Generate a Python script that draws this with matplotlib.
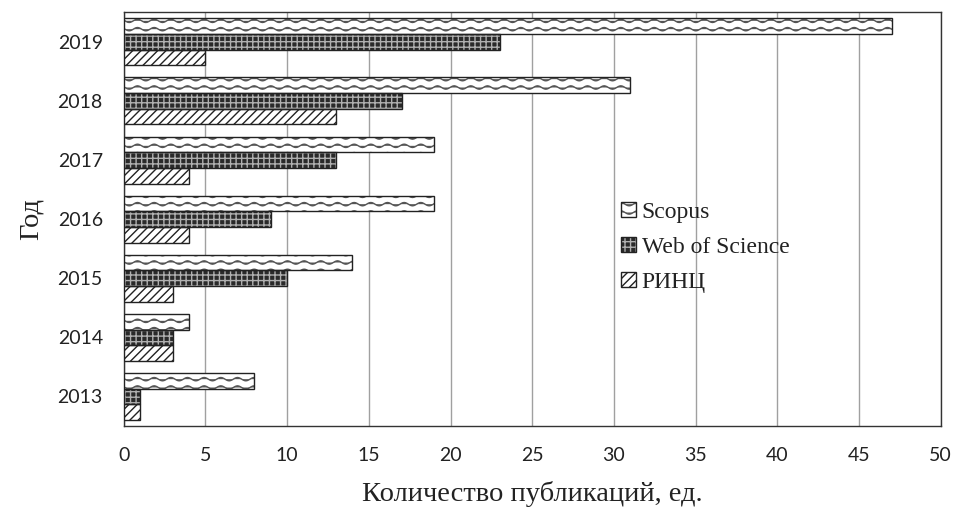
import numpy as np
import matplotlib
matplotlib.use("Agg")
import matplotlib.pyplot as plt
import matplotlib.hatch as mhatch
from matplotlib.path import Path
from matplotlib.patches import Patch
import warnings
warnings.filterwarnings("ignore")

years = ["2013", "2014", "2015", "2016", "2017", "2018", "2019"]
scopus = [8, 4, 14, 19, 19, 31, 47]
wos = [1, 3, 10, 9, 13, 17, 23]
rinc = [1, 3, 3, 4, 4, 13, 5]
series_names = ["Scopus", "Web of Science", "РИНЦ"]


class WavyHatch(mhatch.HatchPatternBase):
    def __init__(self, hatch, density):
        self.num_rows = int(hatch.count('~') * density)
        self.waves = max(1, self.num_rows // 2)
        self.pts = self.waves * 12 + 1
        self.num_vertices = self.num_rows * self.pts

    def set_vertices_and_codes(self, vertices, codes):
        if self.num_rows == 0:
            return
        step = 1.0 / self.num_rows
        x = np.linspace(0, 1, self.pts)
        amp = step * 0.2
        for i in range(self.num_rows):
            y0 = (i + 0.5) * step
            y = y0 + amp * np.sin(2 * np.pi * self.waves * x)
            sl = slice(i * self.pts, (i + 1) * self.pts)
            vertices[sl, 0] = x
            vertices[sl, 1] = y
            codes[sl] = Path.LINETO
            codes[i * self.pts] = Path.MOVETO


mhatch._hatch_types.append(WavyHatch)

plt.rcParams['hatch.linewidth'] = 1.0

fig = plt.figure(figsize=(9.59, 5.09), dpi=100)
ax = fig.add_axes([0.129, 0.163, 0.852, 0.813])

pos = np.arange(len(years))
h = 0.265
off = [h, 0, -h]

# Scopus: hatch layer in mid grey, then outline
ax.barh(pos + off[0], scopus, height=h, color="white", edgecolor="#555555",
        hatch="~~", linewidth=0, zorder=3)
ax.barh(pos + off[0], scopus, height=h, fill=False, edgecolor="#222222",
        linewidth=1.0, zorder=4)
# WoS: dark fill with light grid hatch, then outline
ax.barh(pos + off[1], wos, height=h, color="#2a2a2a", edgecolor="#b0b0b0",
        hatch="+++", linewidth=0, zorder=3)
ax.barh(pos + off[1], wos, height=h, fill=False, edgecolor="#222222",
        linewidth=1.0, zorder=4)
# RINC
ax.barh(pos + off[2], rinc, height=h, color="white", edgecolor="#222222",
        hatch="////", linewidth=1.0, zorder=3)

ax.set_xlim(0, 50)
ax.set_ylim(-0.5, 6.5)
ax.set_xticks(np.arange(0, 51, 5))
ax.set_yticks(pos)
ax.set_yticklabels(years)
ax.xaxis.grid(True, color="#a0a0a0", linewidth=1.0, zorder=0)
ax.set_axisbelow(True)
for s in ax.spines.values():
    s.set_color("#333333")
    s.set_linewidth(1.0)
ax.tick_params(axis="y", length=0, labelsize=14, pad=15)
ax.tick_params(axis="x", length=0, labelsize=14, pad=15)
for lab in ax.get_xticklabels() + ax.get_yticklabels():
    lab.set_fontfamily("Lato")
    lab.set_color("#222222")

ax.set_xlabel("Количество публикаций, ед.", fontsize=20.5,
              fontfamily="Liberation Serif", labelpad=12, color="#222222")
ax.set_ylabel("Год", fontsize=20.5, fontfamily="Liberation Serif", labelpad=10,
              color="#222222")

h_scopus = (Patch(facecolor="white", edgecolor="#555555", hatch="~~", linewidth=0),
            Patch(fill=False, edgecolor="#222222"))
h_wos = (Patch(facecolor="#2a2a2a", edgecolor="#b0b0b0", hatch="+++", linewidth=0),
         Patch(fill=False, edgecolor="#222222"))
h_rinc = Patch(facecolor="white", edgecolor="#222222", hatch="////")
leg = fig.legend(handles=[h_scopus, h_wos, h_rinc], labels=series_names,
                 loc="upper left", bbox_to_anchor=(0.648, 0.604),
                 frameon=False, prop={"family": "Liberation Serif", "size": 17},
                 handlelength=0.6, handleheight=0.6, handletextpad=0.25,
                 labelspacing=0.6, borderaxespad=0, borderpad=0)
for t in leg.get_texts():
    t.set_color("#222222")

fig.savefig("out.png", dpi=100)
